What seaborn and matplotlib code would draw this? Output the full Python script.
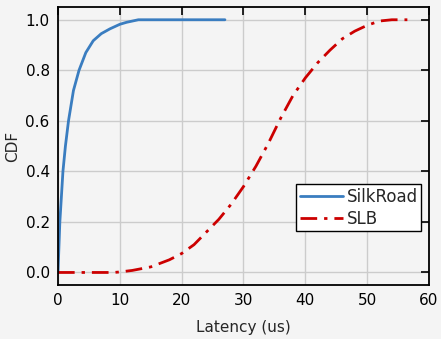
import matplotlib
matplotlib.use("Agg")
import matplotlib.pyplot as plt
import pandas as pd
import seaborn as sns

# ── data ────────────────────────────────────────────────────────────────
silkroad_x = [0, 0.3, 0.8, 1.2, 1.7, 2.5, 3.4, 4.5, 5.7, 7, 8.4, 10, 11.1, 13, 27]
silkroad_y = [0, 0.2, 0.4, 0.5, 0.6, 0.72, 0.8, 0.87, 0.917, 0.945, 0.964,
              0.982, 0.99, 1.0, 1.0]

slb_x = [0, 5, 9, 10, 12, 15, 18, 20, 22, 24, 26, 28, 30, 32, 34, 36, 38,
         40, 42, 44, 46, 48, 50, 52, 54, 56.5]
slb_y = [0, 0, 0, 0.002, 0.008, 0.022, 0.05, 0.075, 0.11, 0.16, 0.21, 0.27,
         0.34, 0.42, 0.51, 0.61, 0.70, 0.77, 0.83, 0.88, 0.925, 0.955, 0.978,
         0.995, 1.0, 1.0]

x_ticks = [0, 10, 20, 30, 40, 50, 60]
y_ticks = [0.0, 0.2, 0.4, 0.6, 0.8, 1.0]

df = pd.concat([
    pd.DataFrame({"latency": silkroad_x, "cdf": silkroad_y, "scheme": "SilkRoad"}),
    pd.DataFrame({"latency": slb_x, "cdf": slb_y, "scheme": "SLB"}),
])

sns.set_style("whitegrid")
plt.rcParams["font.family"] = ["DejaVu Sans"]

bg = "#f4f4f4"
fig = plt.figure(figsize=(4.41, 3.39), dpi=100, facecolor=bg)
ax = fig.add_axes([0.1315, 0.159, 0.8413, 0.820])
ax.set_facecolor(bg)

sns.lineplot(data=df, x="latency", y="cdf", hue="scheme", style="scheme",
             palette={"SilkRoad": "#3a7dc0", "SLB": "#cc0000"},
             dashes={"SilkRoad": "", "SLB": (6, 2.5, 1.2, 2.5)},
             linewidth=2, sort=False, estimator=None, ax=ax)

ax.set_xlim(0, 60)
ax.set_ylim(-0.05, 1.05)
ax.set_xticks(x_ticks)
ax.set_yticks(y_ticks)
ax.set_yticklabels([f"{v:.1f}" for v in y_ticks])
ax.set_xlabel("Latency (us)", fontsize=11, labelpad=8)
ax.set_ylabel("CDF", fontsize=11)

ax.grid(True, color="#cccccc", linewidth=1)
for sp in ax.spines.values():
    sp.set_color("black")
    sp.set_linewidth(1.3)
ax.tick_params(direction="in", length=6, width=1.2, top=True, right=True,
               labelsize=11, colors="black", pad=6)

handles, labels = ax.get_legend_handles_labels()
leg = ax.legend(handles, labels, loc="lower right",
                bbox_to_anchor=(0.978, 0.194), borderaxespad=0,
                fontsize=12, frameon=True, fancybox=False,
                handlelength=2.6, handletextpad=0.2, borderpad=0.2,
                labelspacing=0.25)
leg.get_frame().set_edgecolor("black")
leg.get_frame().set_facecolor("white")
leg.get_frame().set_alpha(1)

fig.savefig("out.png", dpi=100, facecolor=bg)
